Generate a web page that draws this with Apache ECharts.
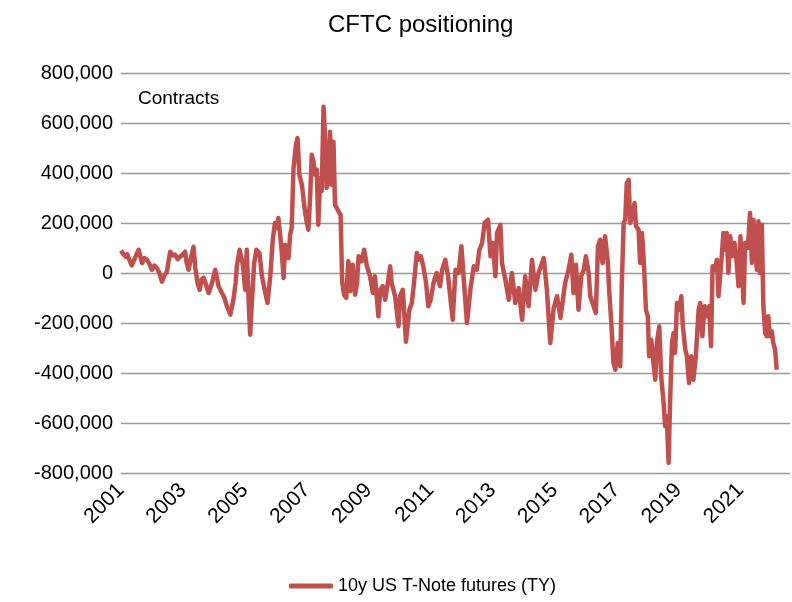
<!DOCTYPE html>
<html>
<head>
<meta charset="utf-8">
<title>CFTC positioning</title>
<script src="https://cdn.jsdelivr.net/npm/echarts@6/dist/echarts.min.js"></script>
<style>
  html, body { margin: 0; padding: 0; background: #fff; }
  #chart { width: 792px; height: 602px; }
</style>
</head>
<body>
<div id="chart"></div>
<script>
// dates as decimal years, net positions in thousands of contracts
var dates = [
  2001.00, 2001.05, 2001.10, 2001.15, 2001.20, 2001.28, 2001.35, 2001.45, 2001.57, 2001.68,
  2001.76, 2001.84, 2001.92, 2002.00, 2002.08, 2002.16, 2002.24, 2002.32, 2002.40, 2002.48,
  2002.54, 2002.59, 2002.67, 2002.75, 2002.83, 2002.91, 2003.00, 2003.07, 2003.12, 2003.18,
  2003.26, 2003.34, 2003.40, 2003.47, 2003.54, 2003.60, 2003.67, 2003.75, 2003.83, 2003.94,
  2004.04, 2004.10, 2004.15, 2004.26, 2004.34, 2004.42, 2004.53, 2004.63, 2004.70, 2004.74,
  2004.83, 2004.89, 2004.94, 2005.01, 2005.06, 2005.12, 2005.17, 2005.23, 2005.30, 2005.37,
  2005.47, 2005.55, 2005.66, 2005.73, 2005.82, 2005.90, 2005.97, 2006.03, 2006.08, 2006.14,
  2006.19, 2006.25, 2006.30, 2006.36, 2006.41, 2006.46, 2006.51, 2006.57, 2006.65, 2006.70,
  2006.76, 2006.84, 2006.94, 2007.00, 2007.05, 2007.11, 2007.16, 2007.21, 2007.27, 2007.32,
  2007.37, 2007.43, 2007.48, 2007.54, 2007.59, 2007.64, 2007.70, 2007.75, 2007.80, 2007.86,
  2007.91, 2008.02, 2008.09, 2008.14, 2008.20, 2008.27, 2008.34, 2008.40, 2008.48, 2008.56,
  2008.62, 2008.67, 2008.77, 2008.85, 2008.94, 2009.04, 2009.13, 2009.20, 2009.31, 2009.37,
  2009.45, 2009.53, 2009.60, 2009.69, 2009.74, 2009.85, 2009.96, 2010.01, 2010.10, 2010.20,
  2010.31, 2010.39, 2010.46, 2010.55, 2010.60, 2010.68, 2010.76, 2010.85, 2010.92, 2011.00,
  2011.09, 2011.19, 2011.30, 2011.37, 2011.47, 2011.56, 2011.71, 2011.80, 2011.90, 2011.99,
  2012.06, 2012.17, 2012.28, 2012.39, 2012.49, 2012.57, 2012.66, 2012.74, 2012.85, 2012.93,
  2013.00, 2013.09, 2013.14, 2013.25, 2013.30, 2013.41, 2013.52, 2013.62, 2013.73, 2013.84,
  2013.95, 2014.05, 2014.16, 2014.27, 2014.38, 2014.48, 2014.65, 2014.75, 2014.86, 2014.97,
  2015.08, 2015.13, 2015.19, 2015.24, 2015.34, 2015.45, 2015.54, 2015.61, 2015.69, 2015.77,
  2015.86, 2015.94, 2016.01, 2016.10, 2016.15, 2016.26, 2016.33, 2016.40, 2016.47, 2016.55,
  2016.63, 2016.72, 2016.76, 2016.83, 2016.90, 2016.96, 2017.04, 2017.12, 2017.17, 2017.23,
  2017.28, 2017.33, 2017.39, 2017.44, 2017.52, 2017.58, 2017.63, 2017.71, 2017.76, 2017.82,
  2017.87, 2017.95, 2018.01, 2018.05, 2018.12, 2018.19, 2018.25, 2018.30, 2018.38, 2018.44,
  2018.52, 2018.57, 2018.62, 2018.68, 2018.73, 2018.79, 2018.84, 2018.89, 2018.95, 2019.02,
  2019.09, 2019.14, 2019.22, 2019.27, 2019.34, 2019.41, 2019.48, 2019.56, 2019.65, 2019.70,
  2019.77, 2019.84, 2019.91, 2019.99, 2020.05, 2020.10, 2020.16, 2020.24, 2020.29, 2020.38,
  2020.45, 2020.51, 2020.56, 2020.61, 2020.67, 2020.74, 2020.81, 2020.88, 2020.94, 2021.00,
  2021.04, 2021.10, 2021.15, 2021.24, 2021.31, 2021.37, 2021.42, 2021.47, 2021.53, 2021.58,
  2021.63, 2021.69, 2021.74, 2021.80, 2021.85, 2021.90, 2021.95, 2022.01, 2022.06, 2022.12,
  2022.17
];

var tyNetK = [
  90, 80, 85, 65, 75, 50, 30, 60, 93, 40,
  60, 53, 35, 13, 30, 20, 0, -35, -10, 5,
  50, 85, 70, 73, 55, 65, 75, 85, 40, 13,
  60, 105, 20, -40, -67, -27, -19, -50, -80, -40,
  13, -20, -53, -80, -100, -133, -167, -107, -40, 27,
  93, 60, 27, -67, 93, -107, -247, -107, 40, 93,
  80, -13, -80, -120, -13, 133, 200, 180, 220, 150,
  85, -20, 113, 80, 60, 153, 180, 420, 513, 540,
  393, 353, 247, 200, 173, 313, 473, 447, 393, 413,
  193, 380, 327, 665, 540, 340, 367, 565, 353, 525,
  273, 247, 233, -35, -87, -100, 47, -73, 33, -87,
  -40, 67, 47, 93, 27, -13, -80, -13, -173, -67,
  -53, -107, -53, 27, -40, -93, -213, -93, -67, -275,
  -147, -120, -40, 80, 53, 67, 27, -40, -133, -107,
  -40, 0, -53, 13, 53, -13, -187, 13, 0, 107,
  -13, -200, -67, 27, 13, 93, 120, 200, 213, 67,
  120, -13, 160, 193, 40, -27, -107, 0, -120, -60,
  -187, -13, -133, 53, -67, 0, 60, -67, -280, -140,
  -93, -133, -180, -187, -40, 13, 73, -80, 33, -147,
  -13, 13, 67, 0, -93, -133, -160, 107, 133, 40,
  147, 40, -67, -200, -360, -387, -280, -373, -40, 200,
  213, 360, 373, 200, 227, 280, 187, 173, 40, 160,
  67, -147, -173, -333, -267, -360, -427, -280, -213, -413,
  -520, -613, -573, -760, -507, -280, -240, -320, -120, -147,
  -93, -213, -307, -333, -440, -333, -427, -333, -147, -120,
  -253, -133, -173, -133, -293, 27, 13, 53, -93, 40,
  160, 93, 160, 0, 147, 67, 120, 40, -53, 147,
  40, -120, 120, 100, 240, 40, 213, 207, 13, 207,
  0, 193, -133, -240, -253, -173, -253, -233, -280, -307,
  -387
];

var yTicks = [-800000, -600000, -400000, -200000, 0, 200000, 400000, 600000, 800000];
var xLabelYears = [2001, 2003, 2005, 2007, 2009, 2011, 2013, 2015, 2017, 2019, 2021];
var seriesName = '10y US T-Note futures (TY)';

var FONT = 'Liberation Sans';
var RED = '#C0504D';

var points = dates.map(function (d, i) { return [d, tyNetK[i] * 1000]; });

var chart = echarts.init(document.getElementById('chart'));
chart.setOption({
  animation: false,
  backgroundColor: '#fff',
  textStyle: { fontFamily: FONT, color: '#000' },
  title: {
    text: 'CFTC positioning',
    left: 323,
    top: 8,
    textStyle: { fontFamily: FONT, fontSize: 24, fontWeight: 'normal', color: '#000' }
  },
  graphic: [{
    type: 'text',
    left: 138,
    top: 89,
    style: { text: 'Contracts', font: '19px "' + FONT + '"', fill: '#000' }
  }],
  legend: {
    data: [seriesName],
    left: 284,
    top: 572,
    icon: 'roundRect',
    itemWidth: 44,
    itemHeight: 5,
    itemGap: 4,
    textStyle: { fontFamily: FONT, fontSize: 18, color: '#000' }
  },
  grid: { left: 121, right: 2, top: 73, bottom: 129 },
  xAxis: {
    type: 'value',
    min: 2001,
    max: 2022.6,
    interval: 2,
    axisLine: { show: false },
    axisTick: { show: false },
    splitLine: { show: false },
    axisLabel: {
      rotate: 45,
      margin: 14,
      fontSize: 21,
      fontFamily: FONT,
      color: '#000',
      showMaxLabel: false,
      formatter: function (v) {
        return xLabelYears.indexOf(v) >= 0 ? String(v) : '';
      }
    }
  },
  yAxis: {
    type: 'value',
    min: yTicks[0],
    max: yTicks[yTicks.length - 1],
    interval: 200000,
    axisLine: { show: false },
    axisTick: { show: false },
    splitLine: { lineStyle: { color: '#999', width: 1.3 } },
    axisLabel: {
      margin: 8,
      fontSize: 20,
      fontFamily: FONT,
      color: '#000',
      formatter: function (v) { return v.toLocaleString('en-US'); }
    }
  },
  series: [{
    name: seriesName,
    type: 'line',
    data: points,
    showSymbol: false,
    lineStyle: { color: RED, width: 4.5, join: 'round' },
    itemStyle: { color: RED }
  }]
});
</script>
</body>
</html>
